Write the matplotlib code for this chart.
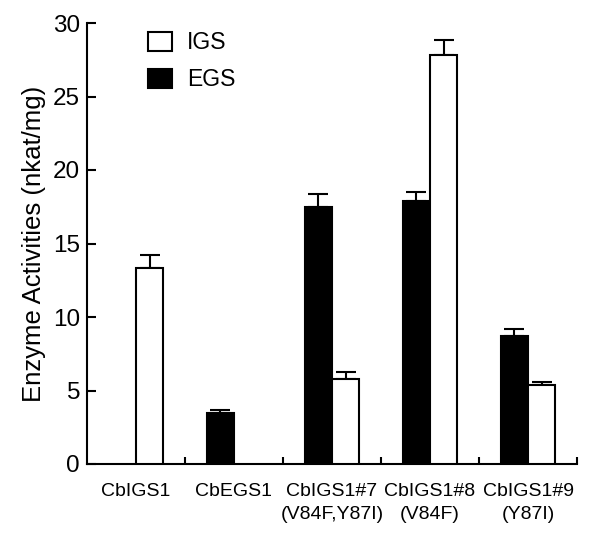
import matplotlib
matplotlib.use("Agg")
import matplotlib.pyplot as plt
import numpy as np
from matplotlib.patches import Patch

plt.rcParams['font.family'] = ['Liberation Sans', 'DejaVu Sans']

categories = ["CbIGS1", "CbEGS1", "CbIGS1#7\n(V84F,Y87I)", "CbIGS1#8\n(V84F)", "CbIGS1#9\n(Y87I)"]
egs_values = [np.nan, 3.5, 17.5, 17.9, 8.7]
egs_errors = [np.nan, 0.15, 0.9, 0.6, 0.5]
igs_values = [13.3, np.nan, 5.75, 27.8, 5.4]
igs_errors = [0.95, np.nan, 0.5, 1.05, 0.15]
yticks = [0, 5, 10, 15, 20, 25, 30]

fig = plt.figure(figsize=(6.0, 5.54), dpi=100)
ax = fig.add_axes([87/600, 1-464/554, 490/600, 441/554])

x = np.arange(len(categories))
w = 0.28
lw = 1.5

def draw(offset, vals, errs, color):
    vals = np.array(vals, float); errs = np.array(errs, float)
    m = ~np.isnan(vals)
    ax.bar(x[m] + offset, vals[m], width=w, color=color, edgecolor='black',
           linewidth=lw, zorder=3)
    ax.errorbar(x[m] + offset, vals[m], yerr=[np.zeros(m.sum()), errs[m]],
                fmt='none', ecolor='black', elinewidth=lw, capsize=7.5,
                capthick=lw, zorder=2)

draw(-w/2, egs_values, egs_errors, 'black')
draw(w/2, igs_values, igs_errors, 'white')

ax.set_xlim(-0.5, len(categories) - 0.5)
ax.set_ylim(0, 30)
ax.set_yticks(yticks)
ax.set_yticklabels([str(t) for t in yticks], fontsize=17.5)
ax.set_xticks(x)
ax.set_xticklabels(categories, fontsize=14, linespacing=1.45)
ax.set_xticks(np.arange(len(categories)) + 0.5, minor=True)
ax.tick_params(axis='x', which='major', length=0, pad=14)
ax.tick_params(axis='x', which='minor', direction='in', length=5, width=lw)
ax.tick_params(axis='y', direction='in', length=6.5, width=lw, pad=5)
for s in ['top', 'right']:
    ax.spines[s].set_visible(False)
for s in ['left', 'bottom']:
    ax.spines[s].set_linewidth(lw)

ax.set_ylabel("Enzyme Activities (nkat/mg)", fontsize=18.5, labelpad=5)

handles = [Patch(facecolor='white', edgecolor='black', linewidth=lw),
           Patch(facecolor='black', edgecolor='black', linewidth=lw)]
ax.legend(handles, ["IGS", "EGS"], loc='upper left', bbox_to_anchor=(0.1245, 0.981),
          frameon=False, fontsize=16.5, handlelength=1.05, handleheight=0.96,
          handletextpad=0.65, labelspacing=0.61, borderpad=0, borderaxespad=0)

fig.savefig("out.png", dpi=100)
